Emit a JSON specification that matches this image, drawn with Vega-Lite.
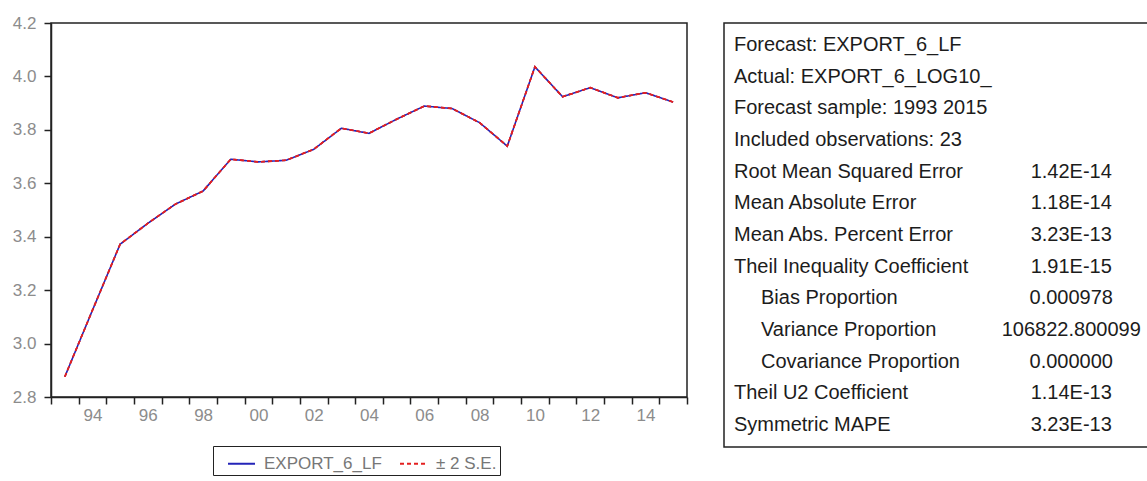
{
  "$schema": "https://vega.github.io/schema/vega-lite/v6.json",
  "padding": {"left": 10, "top": 13, "right": 0, "bottom": 0},
  "spacing": 34,
  "config": {
    "view": {"stroke": "#222", "strokeWidth": 1.5},
    "font": "Liberation Sans"
  },
  "resolve": {
    "scale": {"color": "independent", "strokeDash": "independent"},
    "legend": {"color": "independent", "strokeDash": "independent"}
  },
  "hconcat": [
    {
      "width": 636,
      "height": 374,
      "data": {
        "values": [
          {"year": 1993, "forecast": 2.876, "upper": 2.876, "lower": 2.876},
          {"year": 1994, "forecast": 3.125, "upper": 3.125, "lower": 3.125},
          {"year": 1995, "forecast": 3.372, "upper": 3.372, "lower": 3.372},
          {"year": 1996, "forecast": 3.450, "upper": 3.450, "lower": 3.450},
          {"year": 1997, "forecast": 3.522, "upper": 3.522, "lower": 3.522},
          {"year": 1998, "forecast": 3.571, "upper": 3.571, "lower": 3.571},
          {"year": 1999, "forecast": 3.690, "upper": 3.690, "lower": 3.690},
          {"year": 2000, "forecast": 3.680, "upper": 3.680, "lower": 3.680},
          {"year": 2001, "forecast": 3.686, "upper": 3.686, "lower": 3.686},
          {"year": 2002, "forecast": 3.727, "upper": 3.727, "lower": 3.727},
          {"year": 2003, "forecast": 3.806, "upper": 3.806, "lower": 3.806},
          {"year": 2004, "forecast": 3.787, "upper": 3.787, "lower": 3.787},
          {"year": 2005, "forecast": 3.840, "upper": 3.840, "lower": 3.840},
          {"year": 2006, "forecast": 3.889, "upper": 3.889, "lower": 3.889},
          {"year": 2007, "forecast": 3.880, "upper": 3.880, "lower": 3.880},
          {"year": 2008, "forecast": 3.827, "upper": 3.827, "lower": 3.827},
          {"year": 2009, "forecast": 3.739, "upper": 3.739, "lower": 3.739},
          {"year": 2010, "forecast": 4.036, "upper": 4.036, "lower": 4.036},
          {"year": 2011, "forecast": 3.924, "upper": 3.924, "lower": 3.924},
          {"year": 2012, "forecast": 3.958, "upper": 3.958, "lower": 3.958},
          {"year": 2013, "forecast": 3.920, "upper": 3.920, "lower": 3.920},
          {"year": 2014, "forecast": 3.939, "upper": 3.939, "lower": 3.939},
          {"year": 2015, "forecast": 3.904, "upper": 3.904, "lower": 3.904}
        ]
      },
      "layer": [
        {
          "mark": {"type": "line", "strokeWidth": 1.6},
          "encoding": {
            "x": {
              "field": "year",
              "type": "quantitative",
              "scale": {"domain": [1992.5, 2015.5], "nice": false, "zero": false},
              "axis": {
                "title": null,
                "grid": false,
                "tickCount": 100,
                "values": [1992.5, 1993.5, 1994, 1994.5, 1995.5, 1996, 1996.5, 1997.5, 1998, 1998.5, 1999.5, 2000, 2000.5, 2001.5, 2002, 2002.5, 2003.5, 2004, 2004.5, 2005.5, 2006, 2006.5, 2007.5, 2008, 2008.5, 2009.5, 2010, 2010.5, 2011.5, 2012, 2012.5, 2013.5, 2014, 2014.5, 2015.5],
                "labelExpr": "datum.value % 2 === 0 ? slice(toString(datum.value), 2) : ''",
                "tickOpacity": {"condition": {"test": "datum.value % 1 === 0", "value": 0}, "value": 1},
                "tickSize": 7,
                "tickWidth": 1.5,
                "tickColor": "#222",
                "domainColor": "#222",
                "domainWidth": 1.5,
                "labelColor": "#8c8c8c",
                "labelFontSize": 17,
                "labelFont": "Liberation Sans",
                "labelPadding": 3,
                "labelOverlap": false,
                "labelFlush": false
              }
            },
            "y": {
              "field": "forecast",
              "type": "quantitative",
              "scale": {"domain": [2.8, 4.2], "nice": false, "zero": false},
              "axis": {
                "title": null,
                "grid": false,
                "tickCount": 20,
                "values": [2.8, 3.0, 3.2, 3.4, 3.6, 3.8, 4.0, 4.2],
                "format": ".1f",
                "tickSize": 7,
                "tickWidth": 1.5,
                "tickColor": "#222",
                "domainColor": "#222",
                "domainWidth": 1.5,
                "labelPadding": 8,
                "minExtent": 40,
                "maxExtent": 40,
                "labelColor": "#8c8c8c",
                "labelFontSize": 17,
                "labelFont": "Liberation Sans",
                "labelFlush": false,
                "labelOverlap": false
              }
            },
            "color": {
              "datum": "EXPORT_6_LF",
              "type": "nominal",
              "scale": {"domain": ["EXPORT_6_LF", "± 2 S.E."], "range": ["#2424b8", "#e32020"]},
              "legend": {
                "orient": "none",
                "legendX": 162,
                "legendY": 423,
                "direction": "horizontal",
                "title": null,
                "symbolType": "stroke",
                "symbolSize": 729,
                "symbolStrokeWidth": 2,
                "symbolOffset": 11,
                "labelOffset": 8,
                "columnPadding": 6,
                "padding": 3,
                "strokeColor": "#222",
                "fillColor": "#ffffff",
                "labelFontSize": 17,
                "labelFont": "Liberation Sans",
                "labelColor": "#777777"
              }
            },
            "strokeDash": {
              "datum": "EXPORT_6_LF",
              "type": "nominal",
              "scale": {"domain": ["EXPORT_6_LF", "± 2 S.E."], "range": [[1, 0], [4, 3]]},
              "legend": {
                "orient": "none",
                "legendX": 162,
                "legendY": 423,
                "direction": "horizontal",
                "title": null,
                "symbolType": "stroke",
                "symbolSize": 729,
                "symbolStrokeWidth": 2,
                "symbolOffset": 11,
                "labelOffset": 8,
                "columnPadding": 6,
                "padding": 3,
                "strokeColor": "#222",
                "fillColor": "#ffffff",
                "labelFontSize": 17,
                "labelFont": "Liberation Sans",
                "labelColor": "#777777"
              }
            }
          }
        },
        {
          "mark": {"type": "line", "strokeWidth": 1.6},
          "encoding": {
            "x": {"field": "year", "type": "quantitative"},
            "y": {"field": "upper", "type": "quantitative"},
            "color": {"datum": "± 2 S.E.", "type": "nominal"},
            "strokeDash": {"datum": "± 2 S.E.", "type": "nominal"}
          }
        },
        {
          "mark": {"type": "line", "strokeWidth": 1.6},
          "encoding": {
            "x": {"field": "year", "type": "quantitative"},
            "y": {"field": "lower", "type": "quantitative"},
            "color": {"datum": "± 2 S.E.", "type": "nominal"},
            "strokeDash": {"datum": "± 2 S.E.", "type": "nominal"}
          }
        }
      ]
    },
    {
      "width": 467,
      "height": 424,
      "data": {
        "values": [
          {"row": 1, "label": "Forecast: EXPORT_6_LF", "value": "", "level": 0},
          {"row": 2, "label": "Actual: EXPORT_6_LOG10_", "value": "", "level": 0},
          {"row": 3, "label": "Forecast sample: 1993 2015", "value": "", "level": 0},
          {"row": 4, "label": "Included observations: 23", "value": "", "level": 0},
          {"row": 5, "label": "Root Mean Squared Error", "value": "1.42E-14", "level": 0},
          {"row": 6, "label": "Mean Absolute Error", "value": "1.18E-14", "level": 0},
          {"row": 7, "label": "Mean Abs. Percent Error", "value": "3.23E-13", "level": 0},
          {"row": 8, "label": "Theil Inequality Coefficient", "value": "1.91E-15", "level": 0},
          {"row": 9, "label": "Bias Proportion", "value": "0.000978", "level": 1},
          {"row": 10, "label": "Variance Proportion", "value": "106822.800099", "level": 1},
          {"row": 11, "label": "Covariance Proportion", "value": "0.000000", "level": 1},
          {"row": 12, "label": "Theil U2 Coefficient", "value": "1.14E-13", "level": 0},
          {"row": 13, "label": "Symmetric MAPE", "value": "3.23E-13", "level": 0}
        ]
      },
      "encoding": {
        "y": {"field": "row", "type": "ordinal", "scale": {"type": "point", "padding": 0.7}, "axis": null}
      },
      "layer": [
        {
          "transform": [{"filter": "datum.level === 0"}],
          "mark": {"type": "text", "align": "left", "baseline": "middle", "dx": 10, "fontSize": 20, "font": "Liberation Sans", "color": "#1c1c1c"},
          "encoding": {
            "x": {
              "datum": "Statistic",
              "type": "nominal",
              "bandPosition": 0,
              "scale": {"type": "band", "domain": ["Statistic", "Value"], "paddingInner": 0, "paddingOuter": 0},
              "axis": null
            },
            "text": {"field": "label"}
          }
        },
        {
          "transform": [{"filter": "datum.level === 1"}],
          "mark": {"type": "text", "align": "left", "baseline": "middle", "dx": 37, "fontSize": 20, "font": "Liberation Sans", "color": "#1c1c1c"},
          "encoding": {
            "x": {"datum": "Statistic", "type": "nominal", "bandPosition": 0},
            "text": {"field": "label"}
          }
        },
        {
          "mark": {"type": "text", "align": "center", "baseline": "middle", "dx": -3, "fontSize": 20, "font": "Liberation Sans", "color": "#1c1c1c"},
          "encoding": {
            "x": {"datum": "Value", "type": "nominal", "bandPosition": 0.5},
            "text": {"field": "value"}
          }
        }
      ]
    }
  ]
}
